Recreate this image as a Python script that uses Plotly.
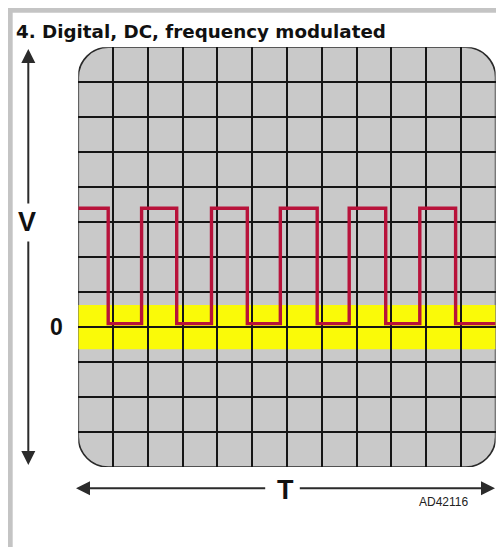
import plotly.graph_objects as go

# ---------------- data ----------------
title_text = "4. Digital, DC, frequency modulated"
# switching instants of the square wave, in time divisions
edge_times = [0.0, 0.86, 1.82, 2.83, 3.83, 4.86, 5.81, 6.87, 7.79, 8.84, 9.82, 10.85, 12.0]
# voltage level (in divisions) holding from each instant
signal_levels = [3.4, 0.1, 3.4, 0.1, 3.4, 0.1, 3.4, 0.1, 3.4, 0.1, 3.4, 0.1, 0.1]
# DC tolerance band around zero (divisions)
band_low = -0.63
band_high = 0.63
# screen graticule
x_divisions = [0, 12]
y_divisions = [-4, 8]
x_grid = [1, 2, 3, 4, 5, 6, 7, 8, 9, 10, 11]
y_grid = [-3, -2, -1, 0, 1, 2, 3, 4, 5, 6, 7]
v_label = "V"
t_label = "T"
zero_label = "0"
zero_value = 0
ref_code = "AD42116"

# ---------------- layout geometry (pixels) ----------------
W, H = 496, 547
def px(x):
    return x / W
def py(y):
    return 1 - y / H

scr_l, scr_r, scr_t, scr_b = 78.3, 495.6, 47.3, 467.0

fig = go.Figure()

fig.add_trace(go.Scatter(
    x=edge_times, y=signal_levels, mode="lines",
    line=dict(color="#B8123A", width=3.4, shape="hv"),
    hoverinfo="skip", showlegend=False,
))

# rounded screen outline in data coordinates
x0, x1 = x_divisions
y0, y1 = y_divisions
rx = 30 / ((scr_r - scr_l) / (x1 - x0))
ry = 30 / ((scr_b - scr_t) / (y1 - y0))
k = 0.5523
path = (
    f"M {x0+rx},{y1} L {x1-rx},{y1} "
    f"C {x1-rx+k*rx},{y1} {x1},{y1-ry+k*ry} {x1},{y1-ry} "
    f"L {x1},{y0+ry} "
    f"C {x1},{y0+ry-k*ry} {x1-rx+k*rx},{y0} {x1-rx},{y0} "
    f"L {x0+rx},{y0} "
    f"C {x0+rx-k*rx},{y0} {x0},{y0+ry-k*ry} {x0},{y0+ry} "
    f"L {x0},{y1-ry} "
    f"C {x0},{y1-ry+k*ry} {x0+rx-k*rx},{y1} {x0+rx},{y1} Z"
)

shapes = [
    # page frame bands
    dict(type="rect", xref="paper", yref="paper", x0=px(8), x1=1.0, y0=py(12.7), y1=py(8),
         fillcolor="#C4C4C4", line=dict(width=0), layer="below"),
    dict(type="rect", xref="paper", yref="paper", x0=px(8), x1=px(12.7), y0=0, y1=py(8),
         fillcolor="#C4C4C4", line=dict(width=0), layer="below"),
    # screen
    dict(type="path", xref="x", yref="y", path=path, fillcolor="#C9C9C9",
         line=dict(color="#2a2a2a", width=1.6), layer="below"),
    # DC band
    dict(type="rect", xref="x", yref="y", x0=x0, x1=x1, y0=band_low, y1=band_high,
         fillcolor="#FAFA08", line=dict(width=0), layer="below"),
]

arrow_col = "#2b2b2b"
annotations = [
    dict(text=f"<b>{title_text}</b>", xref="paper", yref="paper", x=px(14), y=py(44),
         xanchor="left", yanchor="bottom", showarrow=False,
         font=dict(family="DejaVu Sans", size=18.3, color="#111111")),
    dict(text=f"<b>{v_label}</b>", xref="paper", yref="paper", x=px(26.7), y=py(222),
         xanchor="center", yanchor="middle", showarrow=False,
         font=dict(family="Liberation Sans", size=27, color="#111111")),
    dict(text=f"<b>{zero_label}</b>", xref="paper", yref="y", x=px(56.7), y=zero_value,
         xanchor="center", yanchor="middle", showarrow=False,
         font=dict(family="Liberation Sans", size=23, color="#111111")),
    dict(text=f"<b>{t_label}</b>", xref="paper", yref="paper", x=px(285), y=py(490),
         xanchor="center", yanchor="middle", showarrow=False,
         font=dict(family="Liberation Sans", size=27, color="#111111")),
    dict(text=ref_code, xref="paper", yref="paper", x=px(443), y=py(502),
         xanchor="center", yanchor="middle", showarrow=False,
         font=dict(family="Liberation Sans", size=12, color="#222222")),
    # V arrows
    dict(text="", xref="paper", yref="paper", x=px(28.3), y=py(49), ax=0, ay=205 - 49,
         showarrow=True, arrowhead=2, arrowsize=1.4, arrowwidth=2, arrowcolor=arrow_col),
    dict(text="", xref="paper", yref="paper", x=px(28.3), y=py(465), ax=0, ay=240 - 465,
         showarrow=True, arrowhead=2, arrowsize=1.4, arrowwidth=2, arrowcolor=arrow_col),
    # T arrows
    dict(text="", xref="paper", yref="paper", x=px(76), y=py(488.3), ax=266.7 - 76, ay=0,
         showarrow=True, arrowhead=2, arrowsize=1.4, arrowwidth=2, arrowcolor=arrow_col),
    dict(text="", xref="paper", yref="paper", x=px(495.5), y=py(488.3), ax=298.3 - 495.5, ay=0,
         showarrow=True, arrowhead=2, arrowsize=1.4, arrowwidth=2, arrowcolor=arrow_col),
]

fig.update_layout(
    width=W, height=H,
    margin=dict(l=0, r=0, t=0, b=0),
    paper_bgcolor="white", plot_bgcolor="rgba(0,0,0,0)",
    shapes=shapes, annotations=annotations, showlegend=False,
    xaxis=dict(domain=[px(scr_l), px(scr_r)], range=x_divisions, tickmode="array",
               tickvals=x_grid, showticklabels=False, ticks="", showgrid=True,
               gridcolor="#151515", gridwidth=1.6, zeroline=False, showline=False,
               fixedrange=True),
    yaxis=dict(domain=[py(scr_b), py(scr_t)], range=y_divisions, tickmode="array",
               tickvals=y_grid, showticklabels=False, ticks="", showgrid=True,
               gridcolor="#151515", gridwidth=1.6, zeroline=False, showline=False,
               fixedrange=True),
)

fig.write_html(
    "out.html",
    config={"displayModeBar": False},
    post_script="document.body.style.margin='0';document.body.style.overflow='hidden';",
)
